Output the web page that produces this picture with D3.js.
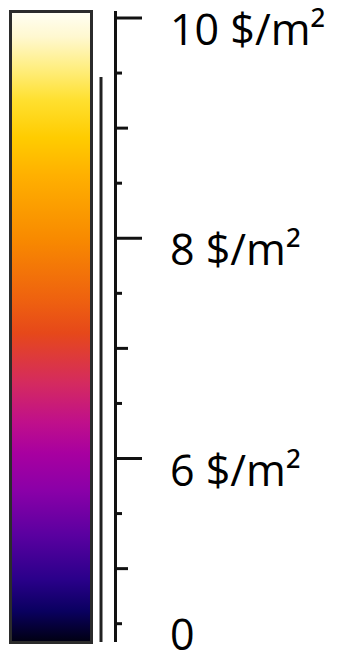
<!DOCTYPE html>
<html>
<head>
<meta charset="utf-8">
<script src="https://cdn.jsdelivr.net/npm/d3@7"></script>
<style>
  html, body { margin: 0; padding: 0; background: #fff; }
  svg { display: block; }
  .lbl { font-family: "Open Sans", sans-serif; font-size: 43px; fill: #000; }
</style>
</head>
<body>
<svg id="cbar" width="347" height="663"></svg>
<script>
// colour stops of the bar, 0 = bottom, 1 = top
const stopPos = [0, 0.05, 0.1, 0.17, 0.24, 0.3, 0.35, 0.41, 0.49, 0.54, 0.64, 0.74, 0.8, 0.86, 0.91, 0.96, 1];
const stopColors = ["#000010", "#0a0060", "#2a008a", "#5a00a0", "#8a00a8", "#a800a0", "#c0108a", "#d42a60",
  "#e6481a", "#ee6010", "#f88a00", "#ffb000", "#ffcc00", "#ffe030", "#ffee80", "#fff8d0", "#fffef4"];

// axis ticks and labels
const tickValues = [10, 9.5, 9, 8.5, 8, 7.5, 7, 6.5, 6, 5.5, 5, 4.5];
const labelValues = [10, 8, 6, 0];
const labelTexts = ["10 $/m²", "8 $/m²", "6 $/m²", "0"];

const svg = d3.select("#cbar");

// broken axis: 0 is squeezed to the bottom end
const yScale = d3.scaleLinear()
  .domain([0, 4.5, 10])
  .range([642, 623.7, 18]);

// gradient
const defs = svg.append("defs");
const grad = defs.append("linearGradient")
  .attr("id", "g")
  .attr("x1", 0).attr("y1", 1).attr("x2", 0).attr("y2", 0);
grad.selectAll("stop")
  .data(stopPos)
  .enter().append("stop")
  .attr("offset", d => d)
  .attr("stop-color", (d, i) => stopColors[i]);

// the bar itself
svg.append("rect")
  .attr("x", 10.5).attr("y", 11.5)
  .attr("width", 81).attr("height", 631)
  .attr("fill", "url(#g)")
  .attr("stroke", "#2b2b2b")
  .attr("stroke-width", 3);

// inner double line (break marker)
svg.append("line")
  .attr("x1", 101).attr("x2", 101)
  .attr("y1", 77).attr("y2", yScale(0))
  .attr("stroke", "#222").attr("stroke-width", 3);

// axis line
svg.append("line")
  .attr("x1", 115.5).attr("x2", 115.5)
  .attr("y1", 11).attr("y2", yScale(0))
  .attr("stroke", "#111").attr("stroke-width", 3);

// ticks: long on even values, medium on odd, short on halves
const tickLen = v => (v % 2 === 0 ? 27 : (Number.isInteger(v) ? 13 : 7));
svg.append("g").selectAll("line")
  .data(tickValues)
  .enter().append("line")
  .attr("x1", 115)
  .attr("x2", d => 115 + tickLen(d))
  .attr("y1", d => yScale(d))
  .attr("y2", d => yScale(d))
  .attr("stroke", "#111")
  .attr("stroke-width", 3);

// labels
svg.append("g").selectAll("text")
  .data(labelValues)
  .enter().append("text")
  .attr("class", "lbl")
  .attr("x", 170)
  .attr("y", d => d === 0 ? yScale(d) + 8 : yScale(d) + 27)
  .text((d, i) => labelTexts[i]);
</script>
</body>
</html>
